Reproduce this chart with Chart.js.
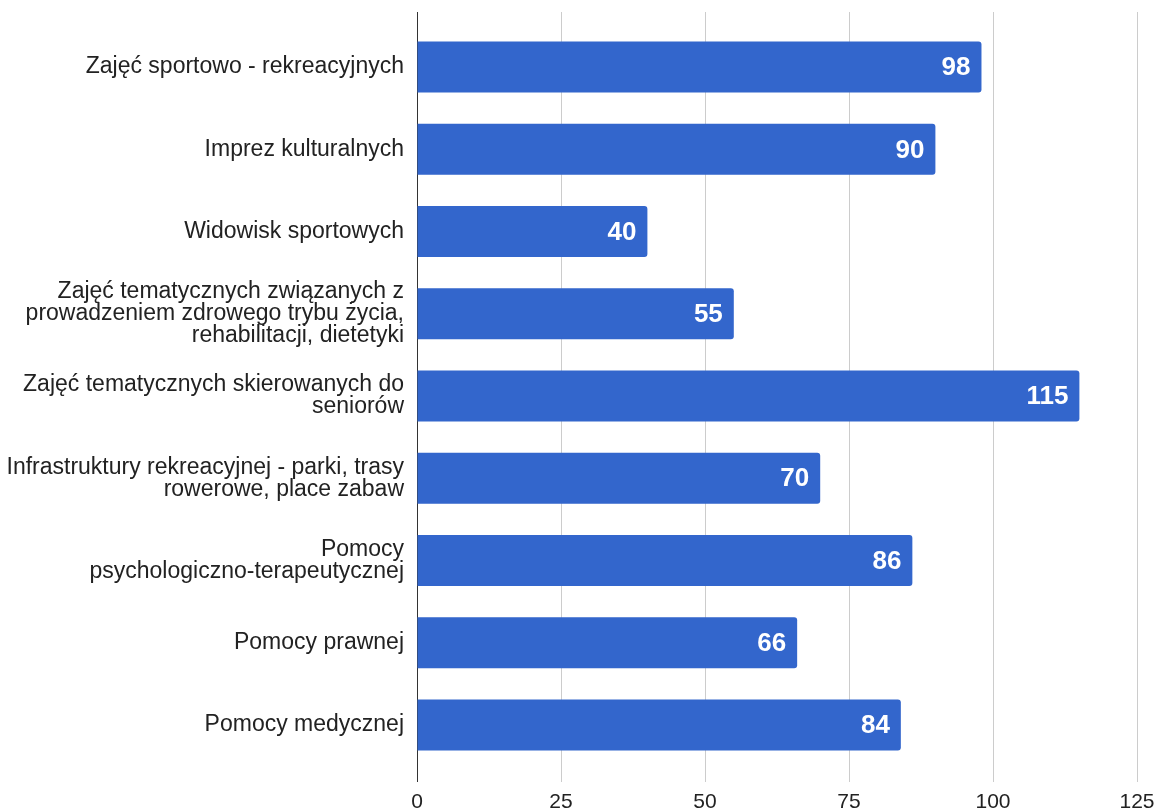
<!DOCTYPE html>
<html lang="pl">
<head>
    <meta charset="UTF-8">
    <title>Zapotrzebowanie</title>
    <style>
        html, body { margin: 0; padding: 0; background: #fff; }
        canvas { display: block; }
    </style>
    <script src="https://cdn.jsdelivr.net/npm/chart.js"></script>
</head>
<body>
    <canvas id="chart" width="1158" height="811"></canvas>

    <script>
        // categories (multi-line labels as they wrap in the original)
        const categories = [
            'Zajęć sportowo - rekreacyjnych',
            'Imprez kulturalnych',
            'Widowisk sportowych',
            ['Zajęć tematycznych związanych z', 'prowadzeniem zdrowego trybu życia,', 'rehabilitacji, dietetyki'],
            ['Zajęć tematycznych skierowanych do', 'seniorów'],
            ['Infrastruktury rekreacyjnej - parki, trasy', 'rowerowe, place zabaw'],
            ['Pomocy', 'psychologiczno-terapeutycznej'],
            'Pomocy prawnej',
            'Pomocy medycznej'
        ];
        const values = [98, 90, 40, 55, 115, 70, 86, 66, 84];
        const xTicks = [0, 25, 50, 75, 100, 125];

        const FONT = '"Liberation Sans", Arial, sans-serif';
        const gridColor = (ctx) => (ctx.tick && ctx.tick.value === 0) ? '#333333' : '#cccccc';

        // draws the value inside the end of each bar
        const valueLabels = {
            id: 'valueLabels',
            afterDatasetsDraw(chart) {
                const ctx = chart.ctx;
                const meta = chart.getDatasetMeta(0);
                ctx.save();
                ctx.font = 'bold 26px ' + FONT;
                ctx.fillStyle = '#ffffff';
                ctx.textAlign = 'right';
                ctx.textBaseline = 'middle';
                meta.data.forEach((bar, i) => {
                    ctx.fillText(String(values[i]), bar.x - 11, bar.y + 1);
                });
                ctx.restore();
            }
        };

        // grid lines in the original run a little above the plot area
        const gridTop = {
            id: 'gridTop',
            beforeDatasetsDraw(chart) {
                const ctx = chart.ctx;
                const x = chart.scales.x;
                ctx.save();
                ctx.lineWidth = 1;
                x.ticks.forEach(t => {
                    const px = Math.round(x.getPixelForValue(t.value)) + 0.5;
                    ctx.strokeStyle = t.value === 0 ? '#333333' : '#cccccc';
                    ctx.beginPath();
                    ctx.moveTo(px, 12);
                    ctx.lineTo(px, chart.chartArea.top);
                    ctx.stroke();
                });
                ctx.restore();
            }
        };

        new Chart(document.getElementById('chart'), {
            type: 'bar',
            data: {
                labels: categories,
                datasets: [{
                    data: values,
                    backgroundColor: '#3366cc',
                    borderRadius: 3,
                    borderSkipped: 'start',
                    categoryPercentage: 1,
                    barPercentage: 0.62
                }]
            },
            options: {
                indexAxis: 'y',
                responsive: false,
                animation: false,
                layout: { padding: { top: 26, right: 0, bottom: 0, left: 0 } },
                plugins: {
                    legend: { display: false },
                    tooltip: { enabled: false }
                },
                scales: {
                    x: {
                        min: 0,
                        max: 125,
                        afterBuildTicks: (scale) => {
                            scale.ticks = xTicks.map(v => ({ value: v }));
                        },
                        afterFit: (scale) => {
                            scale.height = 45;
                            scale.paddingLeft = 0;
                            scale.paddingRight = 21;
                        },
                        grid: { color: gridColor, lineWidth: 1, drawTicks: true, tickLength: 16, tickColor: gridColor },
                        border: { display: false },
                        ticks: {
                            padding: 10,
                            color: '#222222',
                            font: { family: FONT, size: 21, lineHeight: 1 }
                        }
                    },
                    y: {
                        afterFit: (scale) => { scale.width = 417; },
                        grid: { display: false, drawTicks: false },
                        border: { display: false },
                        ticks: {
                            padding: 13,
                            color: '#222222',
                            font: { family: FONT, size: 23, lineHeight: 0.96 }
                        }
                    }
                }
            },
            plugins: [gridTop, valueLabels]
        });
    </script>
</body>
</html>
